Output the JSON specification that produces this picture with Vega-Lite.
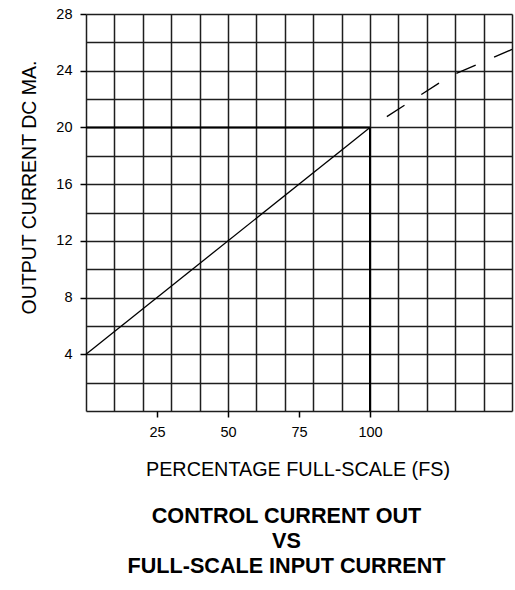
{
  "$schema": "https://vega.github.io/schema/vega-lite/v6.json",
  "width": 426,
  "height": 397,
  "autosize": {"type": "none"},
  "padding": {"left": 86, "top": 14, "right": 3, "bottom": 179},
  "background": "white",
  "config": {"view": {"stroke": null}, "font": "Liberation Sans"},
  "title": {
    "text": ["CONTROL CURRENT OUT", "VS", "FULL-SCALE INPUT CURRENT"],
    "orient": "bottom",
    "anchor": "middle",
    "font": "Liberation Sans",
    "fontSize": 21.6,
    "fontWeight": "bold",
    "lineHeight": 25,
    "offset": 27,
    "dx": -12.5,
    "color": "black"
  },
  "datasets": {
    "guides": [
      {"x": 0, "x2": 100, "y": 20, "y2": 20},
      {"x": 100, "x2": 100, "y": 0, "y2": 20}
    ],
    "curve": [
      {"pct": 0, "ma": 4, "seg": "solid"},
      {"pct": 100, "ma": 20, "seg": "solid"},
      {"pct": 100, "ma": 20, "seg": "dashed"},
      {"pct": 128, "ma": 23.6, "seg": "dashed"},
      {"pct": 150, "ma": 25.5, "seg": "dashed"}
    ]
  },
  "layer": [
    {
      "data": {"name": "guides"},
      "mark": {"type": "rule", "color": "black", "strokeWidth": 2},
      "encoding": {
        "x": {
          "field": "x", "type": "quantitative",
          "scale": {"domain": [0, 150], "nice": false, "zero": false},
          "axis": {"orient": "bottom", "values": [0,10,20,30,40,50,60,70,80,90,100,110,120,130,140,150], "grid": true, "gridColor": "#1e1e1e", "gridWidth": 1.5, "gridOpacity": 1, "labels": false, "ticks": false, "domain": false, "title": null}
        },
        "x2": {"field": "x2"},
        "y": {
          "field": "y", "type": "quantitative",
          "scale": {"domain": [0, 28], "nice": false, "zero": false},
          "axis": {"orient": "left", "values": [0,2,4,6,8,10,12,14,16,18,20,22,24,26,28], "grid": true, "gridColor": "#1e1e1e", "gridWidth": 1.5, "gridOpacity": 1, "labels": false, "ticks": false, "domain": false, "title": null}
        },
        "y2": {"field": "y2"}
      }
    },
    {
      "data": {"name": "curve"},
      "transform": [{"filter": "datum.seg === 'solid'"}],
      "mark": {"type": "line", "color": "black", "strokeWidth": 1.3},
      "encoding": {
        "x": {
          "field": "pct", "type": "quantitative",
          "axis": {"orient": "bottom", "values": [25, 50, 75, 100], "grid": false, "domain": false, "ticks": true, "tickSize": 6, "tickColor": "black", "tickWidth": 1.5, "labelFontSize": 14.5, "labelColor": "black", "labelPadding": 8, "labelFont": "Liberation Sans",
            "title": "PERCENTAGE FULL-SCALE (FS)", "titleFont": "Liberation Sans", "titleFontSize": 19.8, "titleFontWeight": "normal", "titleColor": "black", "titleX": 211.5, "titleY": 64, "titleBaseline": "alphabetic", "titleAnchor": "middle"}
        },
        "y": {
          "field": "ma", "type": "quantitative",
          "axis": {"orient": "left", "values": [4, 8, 12, 16, 20, 24, 28], "grid": false, "domain": false, "ticks": true, "tickSize": 6, "tickColor": "black", "tickWidth": 1.5, "labelFontSize": 14.5, "labelColor": "black", "labelPadding": 8, "labelFont": "Liberation Sans",
            "title": "OUTPUT CURRENT DC MA.", "titleFont": "Liberation Sans", "titleFontSize": 19.5, "titleFontWeight": "normal", "titleColor": "black", "titleX": -51, "titleY": 173, "titleBaseline": "alphabetic", "titleAngle": -90, "titleAnchor": "middle"}
        }
      }
    },
    {
      "data": {"name": "curve"},
      "transform": [{"filter": "datum.seg === 'dashed'"}],
      "mark": {"type": "line", "color": "black", "strokeWidth": 1.3, "strokeDash": [21, 20], "strokeDashOffset": 21},
      "encoding": {
        "x": {"field": "pct", "type": "quantitative", "axis": null},
        "y": {"field": "ma", "type": "quantitative", "axis": null}
      }
    }
  ],
  "resolve": {"axis": {"x": "independent", "y": "independent"}}
}
